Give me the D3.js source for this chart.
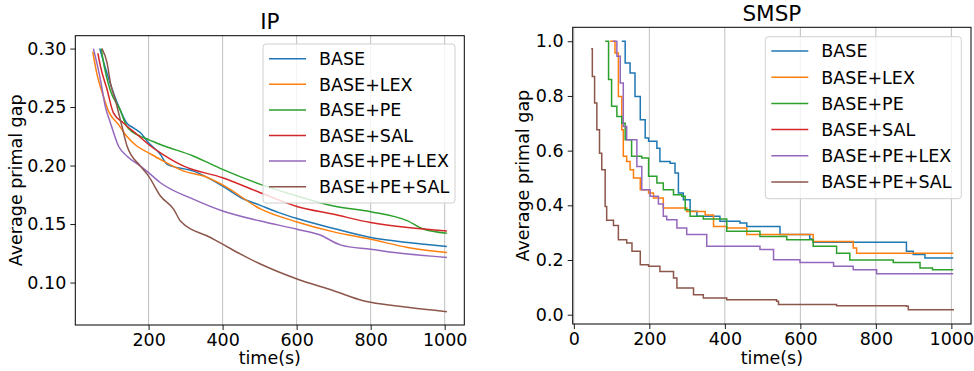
<!DOCTYPE html>
<html>
<head>
<meta charset="utf-8">
<script src="https://cdn.jsdelivr.net/npm/d3@7"></script>
<style>
  body { margin: 0; background: #fff; }
  svg { font-family: "DejaVu Sans", sans-serif; }
</style>
</head>
<body>
<svg id="chart" width="974" height="371"></svg>
<script>
// series names + matplotlib tab10 colours
const names = ['BASE', 'BASE+LEX', 'BASE+PE', 'BASE+SAL', 'BASE+PE+LEX', 'BASE+PE+SAL'];
const colors = ['#1f77b4', '#ff7f0e', '#2ca02c', '#d62728', '#9467bd', '#8c564b'];

// IP panel, [time, gap]
const ipBase = [[68,0.300],[96,0.2705],[119,0.2506],[141,0.2364],[160,0.2320],[178,0.2280],[200,0.2194],[232,0.2095],[250,0.201],[322,0.1952],[400,0.1825],[450,0.1725],[502,0.166],[550,0.160],[601,0.1547],[700,0.1462],[800,0.1385],[900,0.1342],[1006,0.1308]];
const ipLex = [[49,0.2974],[60,0.279],[78,0.259],[92,0.2463],[119,0.235],[141,0.225],[169,0.2165],[200,0.2109],[232,0.2052],[295,0.1952],[349,0.191],[400,0.1835],[502,0.163],[601,0.1518],[700,0.1433],[800,0.137],[900,0.130],[1006,0.1257]];
const ipPe = [[72,0.300],[80,0.285],[96,0.2648],[123,0.2478],[141,0.2336],[178,0.225],[200,0.2222],[232,0.218],[322,0.208],[400,0.1967],[502,0.1839],[601,0.1740],[700,0.1654],[800,0.1606],[900,0.1527],[940,0.146],[1006,0.1422]];
const ipSal = [[63,0.296],[70,0.2847],[88,0.2648],[105,0.245],[132,0.2364],[169,0.2265],[200,0.218],[232,0.2109],[295,0.1995],[400,0.1896],[502,0.1768],[601,0.165],[700,0.1583],[800,0.1513],[900,0.147],[1006,0.1441]];
const ipPeLex = [[51,0.300],[70,0.2733],[83,0.2506],[97,0.2364],[119,0.2165],[142,0.208],[178,0.1995],[200,0.1939],[232,0.1853],[322,0.1711],[400,0.1612],[502,0.1526],[601,0.1456],[660,0.141],[720,0.132],[800,0.1285],[900,0.1243],[1006,0.1215]];
const ipPeSal = [[74,0.300],[88,0.2876],[97,0.2705],[110,0.2563],[128,0.2336],[142,0.2165],[178,0.1995],[200,0.191],[232,0.174],[268,0.1626],[286,0.1526],[367,0.1385],[400,0.1328],[450,0.124],[502,0.1158],[601,0.103],[700,0.093],[780,0.0845],[800,0.0831],[900,0.0789],[1006,0.0751]];

// SMSP panel, [time, gap] (step after)
const smBase = [[127,1.0],[136,0.92],[149,0.884],[162,0.798],[176,0.713],[189,0.646],[198,0.634],[220,0.609],[228,0.56],[255,0.554],[268,0.518],[277,0.445],[290,0.42],[308,0.378],[326,0.36],[387,0.342],[440,0.335],[458,0.323],[546,0.293],[625,0.277],[634,0.265],[881,0.232],[899,0.22],[930,0.207],[1005,0.207]];
const smLex = [[96,1.0],[109,0.957],[118,0.798],[127,0.676],[131,0.579],[140,0.56],[149,0.53],[158,0.5],[176,0.457],[198,0.445],[211,0.427],[237,0.39],[299,0.377],[348,0.365],[370,0.323],[405,0.317],[458,0.293],[634,0.268],[740,0.244],[749,0.225],[1005,0.225]];
const smPe = [[83,1.0],[92,0.86],[100,0.762],[114,0.725],[127,0.70],[136,0.64],[153,0.579],[180,0.573],[198,0.506],[220,0.482],[237,0.457],[264,0.439],[286,0.433],[295,0.384],[308,0.36],[343,0.35],[405,0.305],[493,0.286],[564,0.274],[634,0.25],[696,0.225],[731,0.20],[846,0.191],[917,0.171],[950,0.164],[1005,0.164]];
const smSal = [];
const smPeLex = [[103,1.0],[114,0.945],[123,0.847],[131,0.688],[140,0.64],[167,0.542],[180,0.457],[202,0.433],[224,0.405],[237,0.36],[246,0.347],[273,0.317],[299,0.293],[352,0.25],[484,0.25],[493,0.238],[529,0.201],[599,0.191],[688,0.177],[740,0.164],[802,0.15],[1005,0.15]];
const smPeSal = [[46,0.973],[49,0.871],[55,0.774],[61,0.676],[68,0.59],[74,0.53],[83,0.396],[87,0.345],[105,0.326],[118,0.274],[140,0.262],[154,0.232],[176,0.183],[198,0.177],[228,0.158],[264,0.134],[273,0.098],[308,0.098],[317,0.073],[343,0.061],[405,0.055],[537,0.049],[542,0.037],[696,0.033],[881,0.031],[886,0.018],[1005,0.015]];

const xTicksIP = [200, 400, 600, 800, 1000];
const yTicksIP = [0.10, 0.15, 0.20, 0.25, 0.30];
const xTicksSM = [0, 200, 400, 600, 800, 1000];
const yTicksSM = [0.0, 0.2, 0.4, 0.6, 0.8, 1.0];

const svg = d3.select('#chart');

function drawPanel(p) {
  const x = d3.scaleLinear().domain(p.xDom).range([p.left, p.right]);
  const y = d3.scaleLinear().domain(p.yDom).range([p.bottom, p.top]);
  const g = svg.append('g');

  // vertical grid
  g.append('g').selectAll('line')
    .data(p.xTicks).enter().append('line')
    .attr('x1', d => x(d)).attr('x2', d => x(d))
    .attr('y1', p.top).attr('y2', p.bottom)
    .attr('stroke', '#b0b0b0').attr('stroke-width', 0.8);

  // lines
  const line = d3.line().x(d => x(d[0])).y(d => y(d[1])).curve(p.curve);
  p.series.forEach((s, i) => {
    if (!s.length) return;
    g.append('path').datum(s)
      .attr('d', line)
      .attr('fill', 'none')
      .attr('stroke', colors[i])
      .attr('stroke-width', 1.5);
  });

  // axes
  const ax = g.append('g').attr('transform', 'translate(0,' + p.bottom + ')')
    .call(d3.axisBottom(x).tickValues(p.xTicks).tickSize(5).tickPadding(4).tickFormat(d3.format('d')));
  const ay = g.append('g').attr('transform', 'translate(' + p.left + ',0)')
    .call(d3.axisLeft(y).tickValues(p.yTicks).tickSize(5).tickPadding(4).tickFormat(d3.format(p.yFmt)));
  [ax, ay].forEach(a => {
    a.select('.domain').remove();
    a.selectAll('text').attr('font-size', 17.5).attr('fill', '#000').attr('font-family', 'DejaVu Sans');
    a.selectAll('line').attr('stroke', '#000').attr('stroke-width', 0.9);
  });

  g.append('rect')
    .attr('x', p.left).attr('y', p.top)
    .attr('width', p.right - p.left).attr('height', p.bottom - p.top)
    .attr('fill', 'none').attr('stroke', '#000').attr('stroke-width', 1);

  // title + labels
  g.append('text').attr('x', (p.left + p.right) / 2).attr('y', p.titleY)
    .attr('text-anchor', 'middle').attr('font-size', 21.5).text(p.title);
  g.append('text').attr('x', (p.left + p.right) / 2).attr('y', 364)
    .attr('text-anchor', 'middle').attr('font-size', 17.5).text('time(s)');
  g.append('text')
    .attr('transform', 'translate(' + p.ylabX + ',' + (p.top + p.bottom) / 2 + ') rotate(-90)')
    .attr('text-anchor', 'middle').attr('font-size', 17.5).text('Average primal gap');

  // legend
  const lg = g.append('g');
  lg.append('rect')
    .attr('x', p.leg.x).attr('y', p.leg.y).attr('width', p.leg.w).attr('height', p.leg.h)
    .attr('rx', 3).attr('fill', '#fff').attr('fill-opacity', 0.8)
    .attr('stroke', '#d0d0d0').attr('stroke-width', 1);
  names.forEach((n, i) => {
    const ry = p.leg.y + p.leg.first + i * p.leg.step;
    lg.append('line')
      .attr('x1', p.leg.x + 6).attr('x2', p.leg.x + 43)
      .attr('y1', ry).attr('y2', ry)
      .attr('stroke', colors[i]).attr('stroke-width', 1.5);
    lg.append('text')
      .attr('x', p.leg.x + 56).attr('y', ry).attr('dy', '0.36em')
      .attr('font-size', 17.5).text(n);
  });
}

drawPanel({
  title: 'IP', titleY: 29,
  left: 75.3, right: 464.3, top: 35.7, bottom: 325,
  xDom: [2, 1053], yDom: [0.0637, 0.311],
  xTicks: xTicksIP, yTicks: yTicksIP, yFmt: '.2f',
  series: [ipBase, ipLex, ipPe, ipSal, ipPeLex, ipPeSal],
  curve: d3.curveMonotoneX,
  ylabX: 22,
  leg: { x: 263, y: 44, w: 192, h: 159, first: 14.7, step: 25.6 }
});

drawPanel({
  title: 'SMSP', titleY: 21,
  left: 572.7, right: 971, top: 27.3, bottom: 324,
  xDom: [-3, 1052], yDom: [-0.034, 1.051],
  xTicks: xTicksSM, yTicks: yTicksSM, yFmt: '.1f',
  series: [smBase, smLex, smPe, smSal, smPeLex, smPeSal],
  curve: d3.curveStepAfter,
  ylabX: 529,
  leg: { x: 765.3, y: 36.7, w: 196, h: 162, first: 14.3, step: 26.2 }
});
</script>
</body>
</html>
